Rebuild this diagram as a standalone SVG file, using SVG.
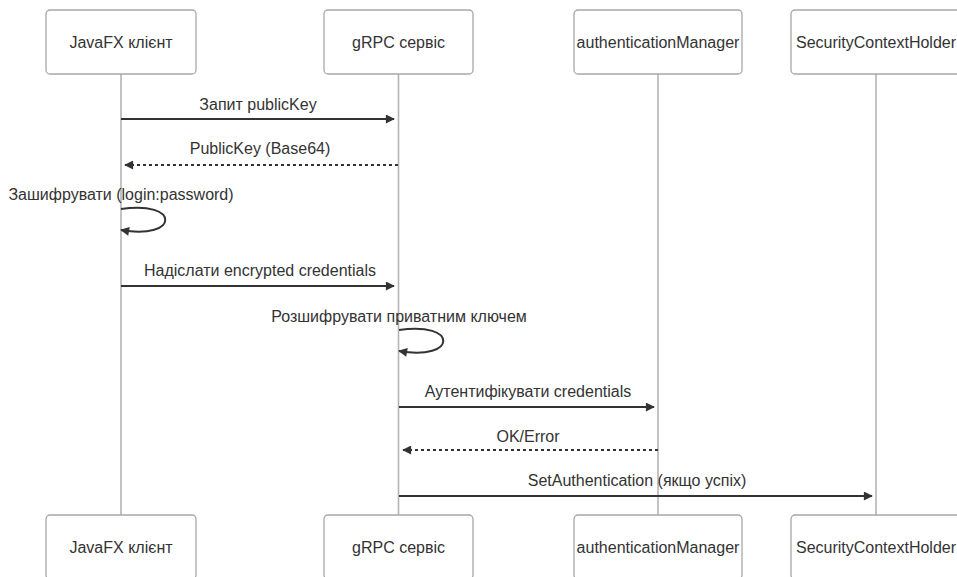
<svg xmlns="http://www.w3.org/2000/svg" width="957" height="577" viewBox="0 0 957 577">
  <style>
    .actor rect { fill: #ffffff; stroke: #a8a8a8; stroke-width: 1.3; }
    .actor text, .label { font-family: "Liberation Sans", Arial, sans-serif; font-size: 16px; fill: #333333; text-anchor: middle; }
    .lifeline { stroke: #b4b4b4; stroke-width: 1.6; fill: none; }
    .msg { stroke: #333333; stroke-width: 2; fill: none; marker-end: url(#arrowhead); }
    .reply { stroke-dasharray: 3 3; }
  </style>
  <defs>
    <marker id="arrowhead" viewBox="0 0 10 10" refX="9" refY="5" markerWidth="10" markerHeight="9" markerUnits="userSpaceOnUse" orient="auto">
      <path d="M0,0 L10,5 L0,10 z" fill="#333333"/>
    </marker>
  </defs>
  <rect width="957" height="577" fill="#ffffff"/>

  <!-- lifelines -->
  <g id="lifelines">
    <line class="lifeline" x1="121" y1="74" x2="121" y2="515"/>
    <line class="lifeline" x1="398.5" y1="74" x2="398.5" y2="515"/>
    <line class="lifeline" x1="658" y1="74" x2="658" y2="515"/>
    <line class="lifeline" x1="876" y1="74" x2="876" y2="515"/>
  </g>

  <!-- participants, top row -->
  <g id="client-top" class="actor">
    <rect x="46" y="10" width="150" height="64" rx="4"/>
    <text x="121" y="48">JavaFX клієнт</text>
  </g>
  <g id="grpc-top" class="actor">
    <rect x="324" y="10" width="149" height="64" rx="4"/>
    <text x="398.5" y="48">gRPC сервіс</text>
  </g>
  <g id="authmanager-top" class="actor">
    <rect x="574" y="10" width="168" height="64" rx="4"/>
    <text x="658" y="48">authenticationManager</text>
  </g>
  <g id="securityholder-top" class="actor">
    <rect x="791" y="10" width="170" height="64" rx="4"/>
    <text x="876" y="48">SecurityContextHolder</text>
  </g>

  <!-- participants, bottom row -->
  <g id="client-bottom" class="actor">
    <rect x="46" y="515" width="150" height="64" rx="4"/>
    <text x="121" y="553">JavaFX клієнт</text>
  </g>
  <g id="grpc-bottom" class="actor">
    <rect x="324" y="515" width="149" height="64" rx="4"/>
    <text x="398.5" y="553">gRPC сервіс</text>
  </g>
  <g id="authmanager-bottom" class="actor">
    <rect x="574" y="515" width="168" height="64" rx="4"/>
    <text x="658" y="553">authenticationManager</text>
  </g>
  <g id="securityholder-bottom" class="actor">
    <rect x="791" y="515" width="170" height="64" rx="4"/>
    <text x="876" y="553">SecurityContextHolder</text>
  </g>

  <!-- messages -->
  <g id="connectors">
    <line class="msg" x1="121" y1="119" x2="394" y2="119"/>
    <line class="msg reply" x1="398" y1="165" x2="125" y2="165"/>
    <path class="msg" d="M121,209 C180,200 180,240 121,230"/>
    <line class="msg" x1="121" y1="286" x2="394" y2="286"/>
    <path class="msg" d="M399,330 C458,321 458,361 399,351"/>
    <line class="msg" x1="399" y1="407" x2="654" y2="407"/>
    <line class="msg reply" x1="658" y1="450" x2="403" y2="450"/>
    <line class="msg" x1="399" y1="496" x2="872" y2="496"/>
  </g>

  <!-- message labels -->
  <g id="labels">
    <text class="label" x="258" y="110">Запит publicKey</text>
    <text class="label" x="260" y="154">PublicKey (Base64)</text>
    <text class="label" x="121" y="200">Зашифрувати (login:password)</text>
    <text class="label" x="260" y="276">Надіслати encrypted credentials</text>
    <text class="label" x="399" y="322">Розшифрувати приватним ключем</text>
    <text class="label" x="528" y="397">Аутентифікувати credentials</text>
    <text class="label" x="528" y="442">OK/Error</text>
    <text class="label" x="637" y="486">SetAuthentication (якщо успіх)</text>
  </g>
</svg>
